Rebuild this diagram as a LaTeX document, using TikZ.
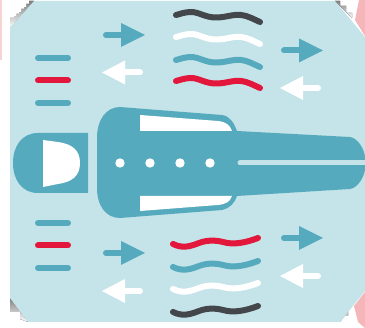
\documentclass[tikz,border=0pt]{standalone}
\definecolor{panel}{HTML}{C5E4E9}
\definecolor{teal}{HTML}{55ABBD}
\definecolor{alarm}{HTML}{E2173B}
\definecolor{ink}{HTML}{43474B}
\definecolor{blush}{HTML}{F4B6B8}
\definecolor{shade}{HTML}{D2D4D4}
\tikzset{
  dash bar/.style={line width=6pt,line cap=round},
  wave/.style={line width=6pt,line cap=round},
  shaft/.style={line width=6pt,line cap=round}
}
\newcommand{\rightarrowmark}[2]{%
  \draw[shaft,teal] (#1-15,#2) -- (#1+2,#2);
  \fill[teal] (#1,#2-12) -- (#1+24,#2) -- (#1,#2+12) -- cycle;}
\newcommand{\leftarrowmark}[2]{%
  \draw[shaft,white] (#1+15,#2) -- (#1-2,#2);
  \fill[white] (#1,#2-12) -- (#1-23,#2) -- (#1,#2+12) -- cycle;}
\newcommand{\topwave}[2]{%
  \draw[wave,#1] (176,#2) .. controls (180,#2-1) and (185,#2-3) .. (191,#2-3)
    .. controls (199,#2-3) and (205,#2+2.5) .. (216,#2+2.5)
    .. controls (226,#2+2.5) and (233,#2-1) .. (241,#2)
    .. controls (249,#2+1) and (255,#2+5) .. (260,#2+7);}
\newcommand{\botwave}[2]{%
  \draw[wave,#1] (173,#2) .. controls (183,#2+5) and (191,#2+2) .. (199,#2-1)
    .. controls (207,#2-4) and (215,#2-4) .. (223,#2-2)
    .. controls (233,#2+1) and (245,#2-1) .. (258,#2-6);}
\begin{document}
\begin{tikzpicture}[x=1pt,y=-1pt]
\useasboundingbox (0,0) rectangle (365,328);
\fill[white] (0,0) rectangle (365,328);
% page edges and corner scraps
\fill[blush!60] (0,0) rectangle (2,60);
\fill[blush] (359,0) -- (365,0) -- (365,36) -- (355,20) -- cycle;
\fill[blush] (365,292) -- (354,306) -- (358,322) -- (365,328) -- cycle;
\fill[shade] (10,28) -- (10,18) -- (14,18) -- (14,14) -- (19,14) -- (19,9) -- (24,9) -- (24,4) -- (29,4) -- (29,1) -- (34,1) -- cycle;
\fill[white] (12,16) -- (16,16) -- (16,12) -- (21,12) -- (21,7) -- (26,7) -- (26,2) -- (12,2) -- cycle;
\fill[shade] (10,298) -- (10,312) -- (20,312) -- (20,319) -- (28,322) -- cycle;
\fill[shade] (335,1) -- (340,1) -- (340,6) -- (346,6) -- (346,13) -- (352,13) -- (352,18) -- cycle;
\fill[shade] (340,322) -- (342,316) -- (348,316) -- (348,310) -- (352,306) -- cycle;
% panel
\fill[panel] (34,1) -- (335,1) -- (365,37) -- (365,291) -- (340,322) -- (28,322) -- (10,298) -- (10,28) -- cycle;
% left bars
\foreach \y/\c in {58/teal,80.5/alarm,103/teal,223/teal,245.5/alarm,268/teal}
  \draw[dash bar,\c] (38,\y) -- (68,\y);
% arrows
\rightarrowmark{121}{35}
\leftarrowmark{125}{72.5}
\rightarrowmark{299}{50.5}
\leftarrowmark{303}{88}
\rightarrowmark{121}{253}
\leftarrowmark{125}{291}
\rightarrowmark{299}{238}
\leftarrowmark{303}{276}
% waves
\topwave{ink}{15}
\topwave{white}{37}
\topwave{teal}{60}
\topwave{alarm}{81}
\botwave{alarm}{244}
\botwave{teal}{267}
\botwave{white}{289}
\botwave{ink}{312}
% head
\fill[teal] (88,133) -- (38,133) .. controls (22,133) and (13,146) .. (13,163)
  .. controls (13,180) and (22,193) .. (38,193) -- (88,193) -- cycle;
\fill[white] (43,140) -- (58,142) .. controls (72,144) and (80,150) .. (80,163)
  .. controls (80,176) and (72,182) .. (58,184) -- (43,187) -- cycle;
% body
\fill[teal] (120,107) -- (222,115) .. controls (230,116) and (234,123) .. (237,131)
  -- (350,137) .. controls (358,138) and (365,150) .. (365,158) -- (365,168)
  .. controls (365,176) and (358,188) .. (350,189) -- (237,196)
  .. controls (234,204) and (230,208) .. (222,210) -- (120,218)
  .. controls (106,218) and (97,206) .. (97,188) -- (97,138)
  .. controls (97,120) and (106,107) .. (120,107) -- cycle;
\fill[white] (140,115) -- (218,121) .. controls (226,122) and (230,125) .. (232,131) -- (140,131) -- cycle;
\fill[white] (140,196) -- (232,196) .. controls (230,202) and (226,204) .. (218,205) -- (140,211) -- cycle;
\foreach \x in {120,150,180,210}
  \fill[white] (\x,163) circle (4.7);
\draw[line width=5pt,line cap=round,panel] (240,163) -- (368,163);
\end{tikzpicture}
\end{document}
